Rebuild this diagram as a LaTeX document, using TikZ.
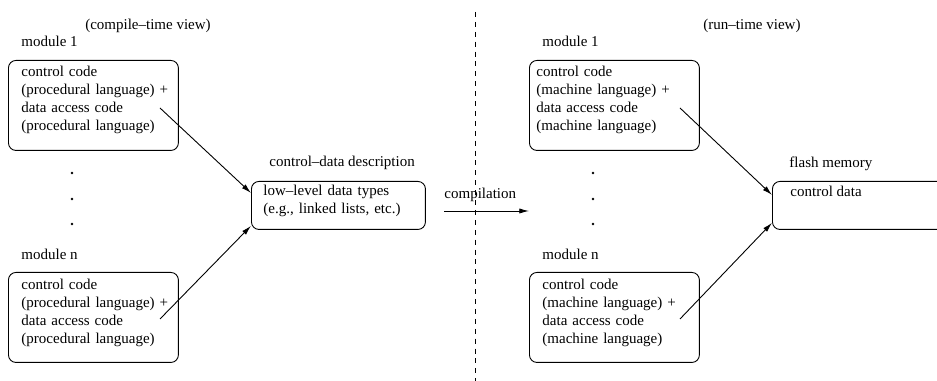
\documentclass[tikz,border=0pt]{standalone}
\usepackage{fontspec}
\setmainfont{Liberation Serif}
\usetikzlibrary{arrows.meta,positioning}

\begin{document}
\begin{tikzpicture}[
  x=0.6667pt, y=-0.6667pt,
  font=\normalsize,
  line width=0.6pt,
  modbox/.style={draw, rounded corners=5pt, anchor=north west, inner sep=0pt,
                 minimum width=113.3pt, minimum height=60pt},
  descbox/.style={modbox, minimum width=116pt, minimum height=32pt},
  flashbox/.style={modbox, minimum width=140pt, minimum height=32pt},
  boxtext/.style={anchor=base west, inner sep=0pt, align=left, text width=110pt},
  lbl/.style={anchor=base west, inner sep=0pt},
  flow/.style={-{Latex[length=6.5pt,width=3.5pt]}},
  divider/.style={dash pattern=on 3.3pt off 3.3pt}
]
\useasboundingbox (0,0) rectangle (937,381);
\clip (0,0) rectangle (937,381);

% ---- compile-time side
\node[inner sep=0pt, anchor=base] (ctview) at (148,30) {(compile--time view)};
\node[lbl] (cmod1) at (21,47) {module 1};
\node[modbox] (cbox1) at (8,60) {};
\node[boxtext] (ctxt1) at (21,77) {control code\\(procedural language) +\\data access code\\(procedural language)};
\node[lbl] (cmodn) at (21,260) {module n};
\node[modbox] (cboxn) at (8,272) {};
\node[boxtext] (ctxtn) at (21,290) {control code\\(procedural language) +\\data access code\\(procedural language)};
\foreach \y in {173,199,224} \fill (72,\y) circle (0.9pt);

\node[lbl] (desclbl) at (269,167) {control--data description};
\node[descbox] (desc) at (251,181) {};
\node[boxtext] (desctxt) at (263,196) {low--level data types\\(e.g., linked lists, etc.)};

\coordinate (cs1) at (160,108);
\coordinate (csn) at (160,319);
\draw[flow] (cs1) -- ([yshift=-8pt]desc.north west);
\draw[flow] (csn) -- ([yshift=2.7pt]desc.south west);

% ---- compilation
\draw[divider] (475,12) -- (475,381);
\node[lbl] (complbl) at (444,199) {compilation};
\coordinate (ca) at (444,211);
\coordinate (cb) at (529,211);
\draw[flow] (ca) -- (cb);

% ---- run-time side
\node[inner sep=0pt, anchor=base] (rtview) at (752,30) {(run--time view)};
\node[lbl] (rmod1) at (542,47) {module 1};
\node[modbox] (rbox1) at (529,60) {};
\node[boxtext] (rtxt1) at (536,77) {control code\\(machine language) +\\data access code\\(machine language)};
\node[lbl] (rmodn) at (542,260) {module n};
\node[modbox] (rboxn) at (529,272) {};
\node[boxtext] (rtxtn) at (542,290) {control code\\(machine language) +\\data access code\\(machine language)};
\foreach \y in {173,199,224} \fill (593,\y) circle (0.9pt);

\node[lbl] (flashlbl) at (789,168) {flash memory};
\node[flashbox] (flash) at (772,181) {};
\node[lbl] (flashtxt) at (790,197) {control data};

\coordinate (rs1) at (680,108);
\coordinate (rsn) at (680,319);
\draw[flow] (rs1) -- ([yshift=-9.3pt]flash.north west);
\draw[flow] (rsn) -- ([yshift=4.7pt]flash.south west);
\end{tikzpicture}
\end{document}
